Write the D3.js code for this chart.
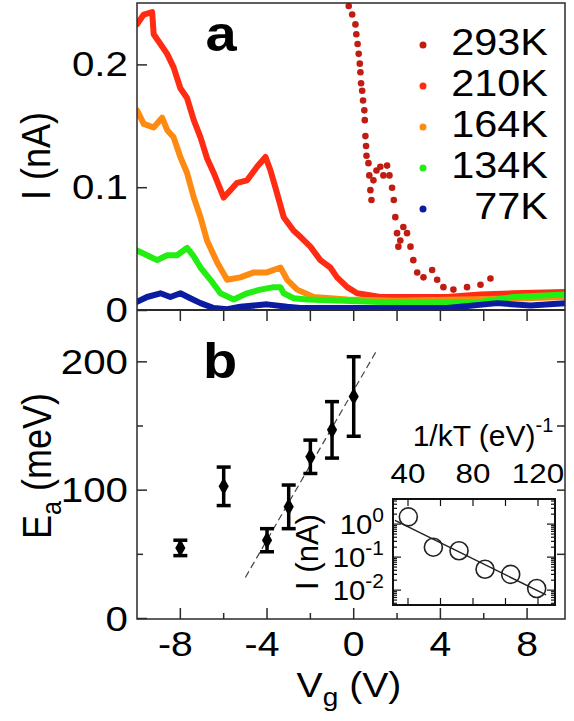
<!DOCTYPE html>
<html>
<head>
<meta charset="utf-8">
<script src="https://cdn.jsdelivr.net/npm/d3@7"></script>
<style>
  body { margin: 0; background: #fff; }
  svg { display: block; }
  text { font-family: "Liberation Sans", Arial, Helvetica, sans-serif; fill: #000; }
</style>
</head>
<body>
<div id="chart"></div>
<script>
// panel a : I vs Vg at several temperatures
var temps = ["293K", "210K", "164K", "134K", "77K"];
var tempColors = ["#c01c12", "#ff2b12", "#ff8a12", "#22ee11", "#0c1ca0"];

var vg293 = [-0.23, -0.07, 0.08, 0.12, 0.18, 0.23, 0.28, 0.31, 0.34, 0.39, 0.43, 0.49, 0.51, 0.54, 0.57, 0.59,
  0.68, 0.72, 0.77, 0.82, 0.91, 1.05, 1.23, 1.37, 1.54, 1.65, 1.77, 1.85, 1.92, 2.0, 2.06, 2.15, 2.29, 2.46,
  2.62, 2.75, 2.93, 3.22, 3.62, 3.85, 4.14, 4.6, 5.23, 5.85, 6.31];
var i293 = [0.248, 0.241, 0.233, 0.225, 0.217, 0.209, 0.201, 0.194, 0.185, 0.179, 0.171, 0.163, 0.155, 0.142, 0.134, 0.126,
  0.12, 0.11, 0.098, 0.09, 0.106, 0.114, 0.117, 0.11, 0.118, 0.11, 0.1, 0.09, 0.076, 0.063, 0.052, 0.057, 0.068, 0.063,
  0.052, 0.041, 0.031, 0.027, 0.033, 0.025, 0.019, 0.017, 0.019, 0.021, 0.026];

var vg210 = [-10.0, -9.69, -9.3, -9.23, -8.92, -8.61, -8.31, -8.0, -7.69, -7.38, -7.07, -6.77, -6.46, -6.0, -5.69, -5.38,
  -4.92, -4.46, -4.07, -3.84, -3.53, -3.23, -2.77, -2.46, -2.0, -1.54, -1.08, -0.77, -0.3, 0.16, 1.23, 2.75, 4.31, 5.85, 7.37, 9.75];
var i210 = [0.233, 0.241, 0.243, 0.225, 0.217, 0.209, 0.198, 0.181, 0.173, 0.155, 0.141, 0.124, 0.112, 0.092, 0.098, 0.104,
  0.106, 0.117, 0.125, 0.114, 0.095, 0.076, 0.065, 0.06, 0.052, 0.041, 0.035, 0.027, 0.019, 0.014, 0.011, 0.011, 0.011, 0.013, 0.014, 0.015];

var vg164 = [-10.0, -9.69, -9.23, -8.84, -8.61, -8.31, -8.0, -7.69, -7.38, -7.07, -6.77, -6.3, -5.84, -5.23, -4.61, -4.0,
  -3.38, -3.07, -2.61, -1.85, -0.3, 2.0, 5.0, 8.0, 9.75];
var i164 = [0.163, 0.152, 0.149, 0.157, 0.147, 0.141, 0.125, 0.112, 0.092, 0.076, 0.057, 0.039, 0.025, 0.027, 0.031, 0.031,
  0.035, 0.025, 0.017, 0.011, 0.009, 0.008, 0.009, 0.010, 0.011];

var vg134 = [-10.0, -9.54, -9.07, -8.61, -8.15, -7.69, -7.38, -7.07, -6.61, -6.15, -5.54, -4.92, -4.31, -3.69, -3.38, -3.23,
  -2.77, -2.15, 1.23, 5.85, 7.37, 9.75];
var i134 = [0.049, 0.045, 0.041, 0.045, 0.045, 0.051, 0.044, 0.035, 0.025, 0.014, 0.009, 0.014, 0.017, 0.019, 0.019, 0.014,
  0.010, 0.009, 0.007, 0.007, 0.011, 0.013];

var vg77 = [-10.0, -9.54, -8.92, -8.46, -8.0, -7.54, -7.07, -6.46, -5.84, -5.23, -4.0, -3.07, -2.46, -1.85, 1.23, 4.31, 6.62, 8.15, 9.75];
var i77 = [0.007, 0.011, 0.014, 0.011, 0.014, 0.010, 0.006, 0.002, 0.001, 0.003, 0.005, 0.003, 0.002, 0.002, 0.002, 0.002, 0.006, 0.004, 0.006];

// panel b : activation energy vs Vg
var vgB = [-8, -6, -4, -3, -2, -1, 0];
var ea = [55, 103, 61, 87, 126, 147, 173];
var eaErr = [6, 15, 9, 17, 13, 22, 31];
var fitVg = [-5, 1.1];
var fitEa = [32, 210];

// inset : Arrhenius plot
var invKT = [40.2, 55.6, 71.4, 87.4, 103.2, 119.2];
var iInset = [1.66, 0.20, 0.156, 0.043, 0.030, 0.0112];
var fitInvKT = [32, 125];
var fitI = [1.3, 0.0072];

var xTicks = [-8, -4, 0, 4, 8];
var xMinor = [-6, -2, 2, 6];
var aTicks = [0, 0.1, 0.2];
var bTicks = [0, 100, 200];
var bMinor = [50, 150];
var insetTicks = [40, 80, 120];
var insetMinor = [60, 100];

var W = 574, H = 721;
// note: "top" is taken by window.top, hence the odd names
var xL = 137, xR = 565, yTop = 3, yMid = 310, yBot = 619;
var stretch = 1.12;   // the reference text is a bit wider than Arial

var svg = d3.select("#chart").append("svg")
    .attr("width", W)
    .attr("height", H);

function label(parent, px, py, str, size, anchor) {
    var g = parent.append("g").attr("transform", "translate(" + px + "," + py + ") scale(" + stretch + ",1)");
    return g.append("text").attr("text-anchor", anchor || "middle").attr("font-size", size).text(str);
}

var x = d3.scaleLinear().domain([-10, 9.75]).range([xL, xR]);
var yA = d3.scaleLinear().domain([0, 0.25]).range([310.5, 3.5]);
var yB = d3.scaleLinear().domain([0, 240]).range([618.5, 310.5]);

var series = [
    {name: temps[0], color: tempColors[0], vg: vg293, i: i293, dots: true},
    {name: temps[1], color: tempColors[1], vg: vg210, i: i210},
    {name: temps[2], color: tempColors[2], vg: vg164, i: i164},
    {name: temps[3], color: tempColors[3], vg: vg134, i: i134},
    {name: temps[4], color: tempColors[4], vg: vg77, i: i77}
];

svg.append("clipPath").attr("id", "clipA")
    .append("rect").attr("x", xL).attr("y", yTop).attr("width", xR - xL).attr("height", yMid - yTop);

var gA = svg.append("g").attr("clip-path", "url(#clipA)");

var line = d3.line()
    .x(function(d) { return x(d[0]); })
    .y(function(d) { return yA(d[1]); });

series.forEach(function(s) {
    var pts = s.vg.map(function(v, k) { return [v, s.i[k]]; });
    if (s.dots) {
        gA.selectAll(null).data(pts).enter().append("circle")
            .attr("cx", function(d) { return x(d[0]); })
            .attr("cy", function(d) { return yA(d[1]); })
            .attr("r", 3.3)
            .attr("fill", s.color);
    } else {
        gA.append("path")
            .datum(pts)
            .attr("d", line)
            .attr("fill", "none")
            .attr("stroke", s.color)
            .attr("stroke-width", 6)
            .attr("stroke-linejoin", "round")
            .attr("stroke-linecap", "round");
    }
});

// frames
var axisColor = "#2a2a2a";
svg.append("rect").attr("x", xL).attr("y", yTop).attr("width", xR - xL).attr("height", yBot - yTop)
    .attr("fill", "none").attr("stroke", axisColor).attr("stroke-width", 1.5);
svg.append("line").attr("x1", xL).attr("x2", xR).attr("y1", yMid).attr("y2", yMid)
    .attr("stroke", axisColor).attr("stroke-width", 2);

var ticks = svg.append("g").attr("stroke", axisColor).attr("stroke-width", 1.5);

// panel a left ticks
aTicks.forEach(function(t) {
    ticks.append("line").attr("x1", xL).attr("x2", xL + 10).attr("y1", yA(t)).attr("y2", yA(t));
    label(svg, 128, yA(t) + 11, t === 0 ? "0" : d3.format(".1f")(t), 36, "end");
});

// panel b left / right ticks
bTicks.concat(bMinor).forEach(function(t) {
    var len = bTicks.indexOf(t) >= 0 ? 10 : 6;
    ticks.append("line").attr("x1", xL).attr("x2", xL + len).attr("y1", yB(t)).attr("y2", yB(t));
    if (t > 0) ticks.append("line").attr("x1", xR).attr("x2", xR - 8).attr("y1", yB(t)).attr("y2", yB(t));
});
bTicks.forEach(function(t) {
    label(svg, 128, yB(t) + 12, String(t), 36, "end");
});

// x ticks, bottom and at the shared edge
xTicks.concat(xMinor).forEach(function(t) {
    var len = xTicks.indexOf(t) >= 0 ? 11 : 6;
    ticks.append("line").attr("x1", x(t)).attr("x2", x(t)).attr("y1", yBot).attr("y2", yBot - len);
    ticks.append("line").attr("x1", x(t)).attr("x2", x(t)).attr("y1", yMid).attr("y2", yMid + 11);
});
xTicks.forEach(function(t) {
    label(svg, x(t) - (t < 0 ? 5 : 0), 656, String(t), 35, "middle");
});

// axis titles
var vgG = svg.append("g").attr("transform", "translate(349,697) scale(" + stretch + ",1)");
var vgLab = vgG.append("text").attr("text-anchor", "middle").attr("font-size", 35);
vgLab.append("tspan").text("V");
vgLab.append("tspan").attr("font-size", 25).attr("dy", 9).text("g");
vgLab.append("tspan").attr("dy", -9).text(" (V)");

svg.append("text")
    .attr("transform", "translate(50,156) rotate(-90) scale(1," + stretch + ")")
    .attr("text-anchor", "middle").attr("font-size", 36)
    .text("I (nA)");

var eaLab = svg.append("text")
    .attr("transform", "translate(51,466) rotate(-90) scale(1," + stretch + ")")
    .attr("text-anchor", "middle").attr("font-size", 36);
eaLab.append("tspan").text("E");
eaLab.append("tspan").attr("font-size", 25).attr("dy", 9).text("a");
eaLab.append("tspan").attr("dy", -9).text(" (meV)");

// panel letters
label(svg, 221, 51, "a", 50, "middle").attr("font-weight", "bold");
label(svg, 220, 378, "b", 50, "middle").attr("font-weight", "bold");

// legend
series.forEach(function(s, k) {
    var yy = 45 + k * 41;
    svg.append("circle").attr("cx", 423).attr("cy", yy).attr("r", 3.5).attr("fill", s.color);
    label(svg, 548, yy + 10, s.name, 37, "end");
});

// panel b data
var gB = svg.append("g");
gB.append("path")
    .datum(fitVg.map(function(v, k) { return [v, fitEa[k]]; }))
    .attr("d", d3.line().x(function(d) { return x(d[0]); }).y(function(d) { return yB(d[1]); }))
    .attr("stroke", "#444").attr("stroke-width", 1.2).attr("stroke-dasharray", "7,4").attr("fill", "none");

var pB = vgB.map(function(v, k) { return {v: v, e: ea[k], err: eaErr[k]}; });
var eb = gB.selectAll(null).data(pB).enter().append("g").attr("stroke", "#000").attr("stroke-width", 3.5);
eb.append("line")
    .attr("x1", function(d) { return x(d.v); }).attr("x2", function(d) { return x(d.v); })
    .attr("y1", function(d) { return yB(d.e - d.err); }).attr("y2", function(d) { return yB(d.e + d.err); });
eb.append("line")
    .attr("x1", function(d) { return x(d.v) - 7; }).attr("x2", function(d) { return x(d.v) + 7; })
    .attr("y1", function(d) { return yB(d.e - d.err); }).attr("y2", function(d) { return yB(d.e - d.err); });
eb.append("line")
    .attr("x1", function(d) { return x(d.v) - 7; }).attr("x2", function(d) { return x(d.v) + 7; })
    .attr("y1", function(d) { return yB(d.e + d.err); }).attr("y2", function(d) { return yB(d.e + d.err); });
gB.selectAll(null).data(pB).enter().append("path")
    .attr("d", d3.symbol(d3.symbolDiamond).size(90))
    .attr("transform", function(d) { return "translate(" + x(d.v) + "," + yB(d.e) + ")"; })
    .attr("fill", "#000");

// inset
var ix0 = 393, ix1 = 555, iy0 = 499, iy1 = 605;
var xi = d3.scaleLinear().domain([30, 130]).range([391.75, 554.25]);
var yi = d3.scaleLog().domain([Math.pow(10, -2.45), Math.pow(10, 0.76)]).range([iy1, iy0]);
var gI = svg.append("g");
gI.append("rect").attr("x", ix0).attr("y", iy0).attr("width", ix1 - ix0).attr("height", iy1 - iy0)
    .attr("fill", "#fff").attr("stroke", "#111").attr("stroke-width", 2);

var iT = gI.append("g").attr("stroke", "#111").attr("stroke-width", 1.2);
insetTicks.concat(insetMinor).forEach(function(t) {
    iT.append("line").attr("x1", xi(t)).attr("x2", xi(t)).attr("y1", iy0).attr("y2", iy0 + 7);
    iT.append("line").attr("x1", xi(t)).attr("x2", xi(t)).attr("y1", iy1).attr("y2", iy1 - 7);
});
var logTicks = yi.ticks().filter(function(t) { return yi(t) > iy0 + 1 && yi(t) < iy1 - 1; });
logTicks.forEach(function(t) {
    var major = Math.abs(Math.log10(t) - Math.round(Math.log10(t))) < 1e-6;
    var len = major ? 8 : 4;
    iT.append("line").attr("x1", ix0).attr("x2", ix0 + len).attr("y1", yi(t)).attr("y2", yi(t));
    iT.append("line").attr("x1", ix1).attr("x2", ix1 - len).attr("y1", yi(t)).attr("y2", yi(t));
});

gI.append("path")
    .datum(fitInvKT.map(function(v, k) { return [v, fitI[k]]; }))
    .attr("d", d3.line().x(function(d) { return xi(d[0]); }).y(function(d) { return yi(d[1]); }))
    .attr("stroke", "#222").attr("stroke-width", 1.5).attr("fill", "none");
gI.selectAll(null).data(invKT.map(function(v, k) { return [v, iInset[k]]; })).enter().append("circle")
    .attr("cx", function(d) { return xi(d[0]); })
    .attr("cy", function(d) { return yi(d[1]); })
    .attr("r", 9)
    .attr("fill", "none").attr("stroke", "#222").attr("stroke-width", 1.6);

insetTicks.forEach(function(t) {
    label(svg, xi(t), 483, String(t), 28, "middle");
});

[0, -1, -2].forEach(function(p) {
    var g = svg.append("g").attr("transform", "translate(384," + (yi(Math.pow(10, p)) + 10) + ") scale(1.05,1)");
    var t = g.append("text").attr("text-anchor", "end").attr("font-size", 28);
    t.append("tspan").text("10");
    t.append("tspan").attr("font-size", 20).attr("dy", -12).text(p);
});

var kt = svg.append("text").attr("x", 483).attr("y", 446).attr("text-anchor", "middle").attr("font-size", 30);
kt.append("tspan").text("1/kT (eV)");
kt.append("tspan").attr("font-size", 20).attr("dy", -14).text("-1");

svg.append("text")
    .attr("transform", "translate(318,552) rotate(-90)")
    .attr("text-anchor", "middle").attr("font-size", 31)
    .text("I (nA)");
</script>
</body>
</html>
